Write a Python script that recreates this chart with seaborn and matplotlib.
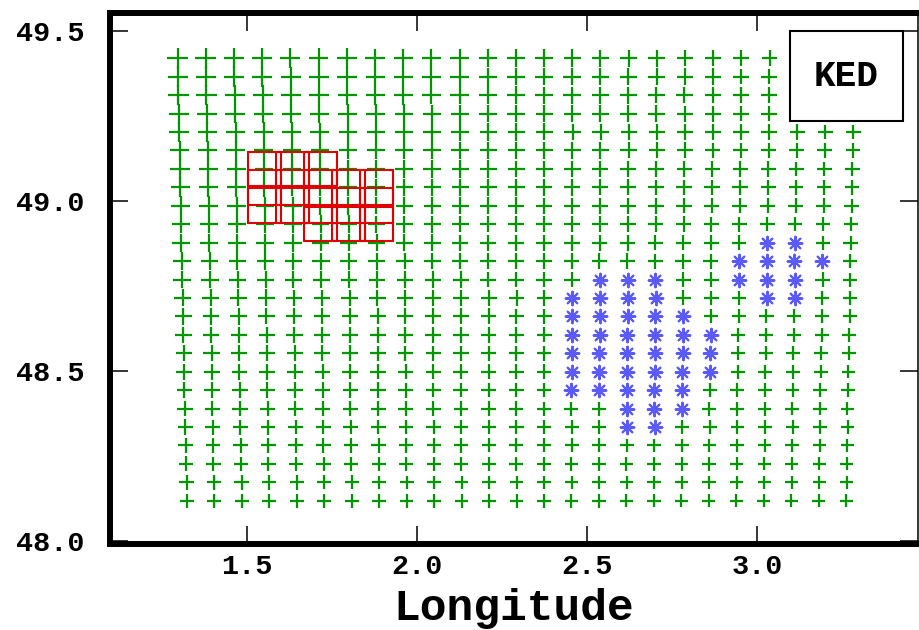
import numpy as np
import pandas as pd
import matplotlib
matplotlib.use("Agg")
import matplotlib.pyplot as plt
from matplotlib.patches import Rectangle
import seaborn as sns

# Model grid: one entry per row (north to south)
row_lat = [49.420, 49.366, 49.311, 49.257, 49.203, 49.149, 49.094, 49.040,
           48.986, 48.932, 48.877, 48.823, 48.769, 48.715, 48.661, 48.606,
           48.552, 48.498, 48.444, 48.389, 48.335, 48.281, 48.227, 48.172,
           48.118]
row_lon0 = [1.296, 1.297, 1.298, 1.300, 1.301, 1.302, 1.303, 1.304,
            1.305, 1.306, 1.307, 1.308, 1.309, 1.311, 1.312, 1.313,
            1.314, 1.315, 1.316, 1.317, 1.318, 1.319, 1.320, 1.322,
            1.323]
row_dlon = [0.0829, 0.0828, 0.0827, 0.0826, 0.0826, 0.0825, 0.0824, 0.0823,
            0.0822, 0.0821, 0.0820, 0.0819, 0.0819, 0.0818, 0.0817, 0.0816,
            0.0815, 0.0814, 0.0813, 0.0812, 0.0812, 0.0811, 0.0810, 0.0809,
            0.0808]
n_cols = 25

# Grid cells holding observations (row index, column index)
obs_rows = [10, 10,
            11, 11, 11, 11,
            12, 12, 12, 12, 12, 12,
            13, 13, 13, 13, 13, 13,
            14, 14, 14, 14, 14,
            15, 15, 15, 15, 15, 15,
            16, 16, 16, 16, 16, 16,
            17, 17, 17, 17, 17, 17,
            18, 18, 18, 18, 18,
            19, 19, 19,
            20, 20]
obs_cols = [21, 22,
            20, 21, 22, 23,
            15, 16, 17, 20, 21, 22,
            14, 15, 16, 17, 21, 22,
            14, 15, 16, 17, 18,
            14, 15, 16, 17, 18, 19,
            14, 15, 16, 17, 18, 19,
            14, 15, 16, 17, 18, 19,
            14, 15, 16, 17, 18,
            16, 17, 18,
            16, 17]

# Cells outlined as target boxes (row index, column index)
box_rows = [6, 7, 8, 6, 7, 8, 6, 7, 8, 9, 7, 8, 9, 7, 8, 9]
box_cols = [3, 3, 3, 4, 4, 4, 5, 5, 5, 5, 6, 6, 6, 7, 7, 7]

legend_label = "KED"
x_label = "Longitude"
x_ticks = [1.5, 2.0, 2.5, 3.0]
y_ticks = [48.0, 48.5, 49.0, 49.5]

# ---- build tables ----
records = []
for j, (lat, lon0, dlon) in enumerate(zip(row_lat, row_lon0, row_dlon)):
    for i in range(n_cols):
        records.append({"row": j, "col": i, "lon": lon0 + i * dlon, "lat": lat})
grid = pd.DataFrame(records)

obs_keys = set(zip(obs_rows, obs_cols))
is_obs = [(r, c) in obs_keys for r, c in zip(grid["row"], grid["col"])]
obs = grid[is_obs]
field = grid[[not f for f in is_obs]].copy()

# plus markers shrink toward the south-east of the domain
u = field["col"] / (n_cols - 1)
v = field["row"] / (len(row_lat) - 1)
size_px = 21 - 6 * u - 7 * v + 5 * u * v
field["s"] = (size_px * 0.72) ** 2

# ---- figure ----
sns.set_theme(style="ticks")
plt.rcParams["font.family"] = ["Liberation Mono", "DejaVu Sans Mono"]
plt.rcParams["font.weight"] = "bold"
plt.rcParams["text.color"] = "black"
plt.rcParams["axes.labelcolor"] = "black"
plt.rcParams["xtick.color"] = "black"
plt.rcParams["ytick.color"] = "black"

fig = plt.figure(figsize=(9.19, 6.30), dpi=100)
ax = fig.add_axes([0.1192, 0.1365, 0.8792, 0.8429])

sns.scatterplot(data=field, x="lon", y="lat", marker="+", s=field["s"].values,
                color="#009600", linewidth=1.6, ax=ax, legend=False, zorder=2)
sns.scatterplot(data=obs, x="lon", y="lat", marker=(8, 2, 0), s=95,
                color="#5a5aff", linewidth=1.5, ax=ax, legend=False, zorder=3)

box_w, box_h = 0.097, 0.102
for r, c in zip(box_rows, box_cols):
    cx = row_lon0[r] + c * row_dlon[r]
    cy = row_lat[r]
    ax.add_patch(Rectangle((cx - box_w / 2, cy - box_h / 2), box_w, box_h,
                           fill=False, edgecolor="#e00000", linewidth=1.5,
                           zorder=4))

# legend box
ax.add_patch(Rectangle((0.8416, 0.7966), 0.1398, 0.1694, transform=ax.transAxes,
                       facecolor="white", edgecolor="black", linewidth=1.5,
                       zorder=6))
ax.text(0.9115, 0.881, legend_label, transform=ax.transAxes, ha="center",
        va="center", fontsize=26, fontweight="bold", color="black", zorder=7)

ax.set_xlim(1.0956, 3.472)
ax.set_ylim(47.991, 49.553)
ax.set_xticks(x_ticks)
ax.set_xticklabels([f"{t:.1f}" for t in x_ticks])
ax.set_yticks(y_ticks)
ax.set_yticklabels([f"{t:.1f}" for t in y_ticks])
ax.tick_params(axis="both", direction="in", length=13, width=1.1,
               labelsize=20.5, top=True, right=True, colors="black")
ax.tick_params(axis="x", pad=7)
ax.tick_params(axis="y", pad=18)
for lab in ax.get_xticklabels() + ax.get_yticklabels():
    lab.set_fontweight("bold")

ax.set_xlabel(x_label, fontsize=32, fontweight="bold", labelpad=6, color="black")
ax.set_ylabel("")

for side in ["left", "top", "bottom"]:
    ax.spines[side].set_linewidth(4.3)
    ax.spines[side].set_color("black")
ax.spines["right"].set_linewidth(1.1)
ax.spines["right"].set_color("black")

fig.savefig("out.png", dpi=100)
